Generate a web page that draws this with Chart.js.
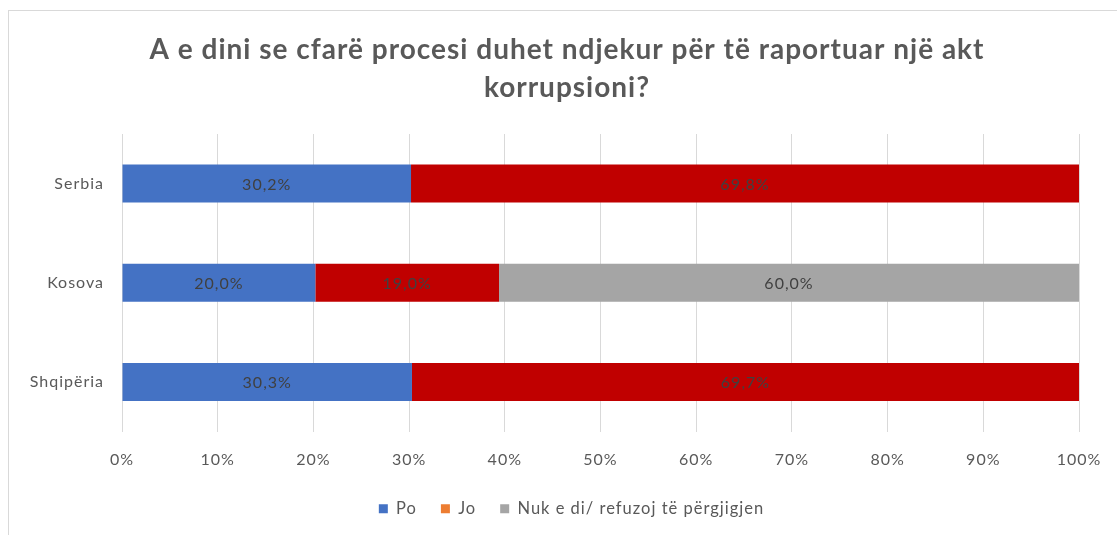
<!DOCTYPE html>
<html>
<head>
<meta charset="utf-8">
<script src="https://cdn.jsdelivr.net/npm/chart.js@4"></script>
<style>
    html, body { margin: 0; padding: 0; background: #fff; }
    #wrap { position: relative; width: 1117px; height: 535px; overflow: hidden; }
    #frame { position: absolute; left: 8px; top: 10px; width: 1200px; height: 600px; border: 1px solid #d9d9d9; }
    #chart { position: absolute; left: 0; top: 0; }
</style>
</head>
<body>
<div id="wrap">
    <div id="frame"></div>
    <canvas id="chart" width="1117" height="535"></canvas>
</div>
<script>
// survey answers per country, as printed on the bars (%)
const countries = ["Serbia", "Kosova", "Shqipëria"];
const seriesNames = ["Po", "Jo", "Nuk e di/ refuzoj të përgjigjen"];
const po = [30.2, 20.0, 30.3];
const jo = [69.8, 19.0, 69.7];
const nuk = [0, 60.0, 0];
const xTicks = [0, 10, 20, 30, 40, 50, 60, 70, 80, 90, 100];

const barColors = ["#4472C4", "#C00000", "#A5A5A5"];
const legendColors = ["#4472C4", "#ED7D31", "#A5A5A5"];

const FONT = "Lato, 'Open Sans', sans-serif";

// 100% stacked: each bar is scaled to its row total
const raw = [po, jo, nuk];
const totals = countries.map((c, i) => po[i] + jo[i] + nuk[i]);
const shares = raw.map(s => s.map((v, i) => v / totals[i] * 100));

function fmt(v) {
    return v.toFixed(1).replace(".", ",") + "%";
}

// the original text is a bit spread out, so open up the letters
const spacing = {
    id: "spacing",
    beforeUpdate(chart) { chart.ctx.letterSpacing = "1px"; },
    beforeDraw(chart) { chart.ctx.letterSpacing = "1px"; },
    // title and legend sit centred over the whole frame, not over axis+plot
    afterLayout(chart) {
        chart.titleBlock.left += 55;
        chart.legend.left += 32;
        chart.legend.right += 32;
        chart.legend.top -= 8;
        chart.legend.bottom -= 8;
    }
};

// draws the value labels in the middle of each segment
const barLabels = {
    id: "barLabels",
    afterDatasetsDraw(chart) {
        const ctx = chart.ctx;
        ctx.save();
        ctx.letterSpacing = "1px";
        ctx.font = "16px " + FONT;
        ctx.fillStyle = "#404040";
        ctx.textAlign = "center";
        ctx.textBaseline = "middle";
        chart.data.datasets.forEach((ds, di) => {
            chart.getDatasetMeta(di).data.forEach((bar, i) => {
                const v = raw[di][i];
                if (!v) return;
                const cx = (bar.x + bar.base) / 2;
                ctx.fillText(fmt(v), cx, bar.y + 1);
            });
        });
        ctx.restore();
    }
};

new Chart(document.getElementById("chart"), {
    type: "bar",
    data: {
        labels: countries,
        datasets: seriesNames.map((name, i) => ({
            label: name,
            data: shares[i],
            backgroundColor: barColors[i],
            categoryPercentage: 1,
            barPercentage: 0.384
        }))
    },
    options: {
        indexAxis: "y",
        responsive: false,
        animation: false,
        layout: {
            padding: { left: 0, right: 38, top: 0, bottom: 0 }
        },
        plugins: {
            title: {
                display: true,
                text: ["A e dini se cfarë procesi duhet ndjekur për të raportuar një akt", "korrupsioni?"],
                color: "#595959",
                font: { family: FONT, size: 28, weight: "bold", lineHeight: "38px" },
                padding: { top: 31, bottom: 27 }
            },
            legend: {
                position: "bottom",
                labels: {
                    color: "#595959",
                    font: { family: FONT, size: 16.5 },
                    boxWidth: 9,
                    boxHeight: 9,
                    padding: 24,
                    generateLabels(chart) {
                        const items = Chart.defaults.plugins.legend.labels.generateLabels(chart);
                        items.forEach((it, i) => {
                            it.fillStyle = legendColors[i];
                            it.strokeStyle = legendColors[i];
                            it.lineWidth = 0;
                        });
                        return items;
                    }
                }
            },
            tooltip: { enabled: false }
        },
        scales: {
            x: {
                stacked: true,
                min: 0,
                max: 100,
                afterBuildTicks(axis) {
                    axis.ticks = xTicks.map(v => ({ value: v }));
                },
                afterFit(axis) {
                    axis.height = 53;
                    axis.paddingLeft = 0;
                    axis.paddingRight = 0;
                },
                border: { display: false },
                grid: { color: "#d9d9d9", drawTicks: false },
                ticks: {
                    color: "#595959",
                    font: { family: FONT, size: 16 },
                    padding: 19,
                    callback: v => v + "%"
                }
            },
            y: {
                stacked: true,
                afterFit(axis) {
                    axis.width = 122;
                },
                border: { display: false },
                grid: { display: false },
                ticks: {
                    color: "#595959",
                    font: { family: FONT, size: 16 },
                    padding: 10
                }
            }
        }
    },
    plugins: [spacing, barLabels]
});
</script>
</body>
</html>
